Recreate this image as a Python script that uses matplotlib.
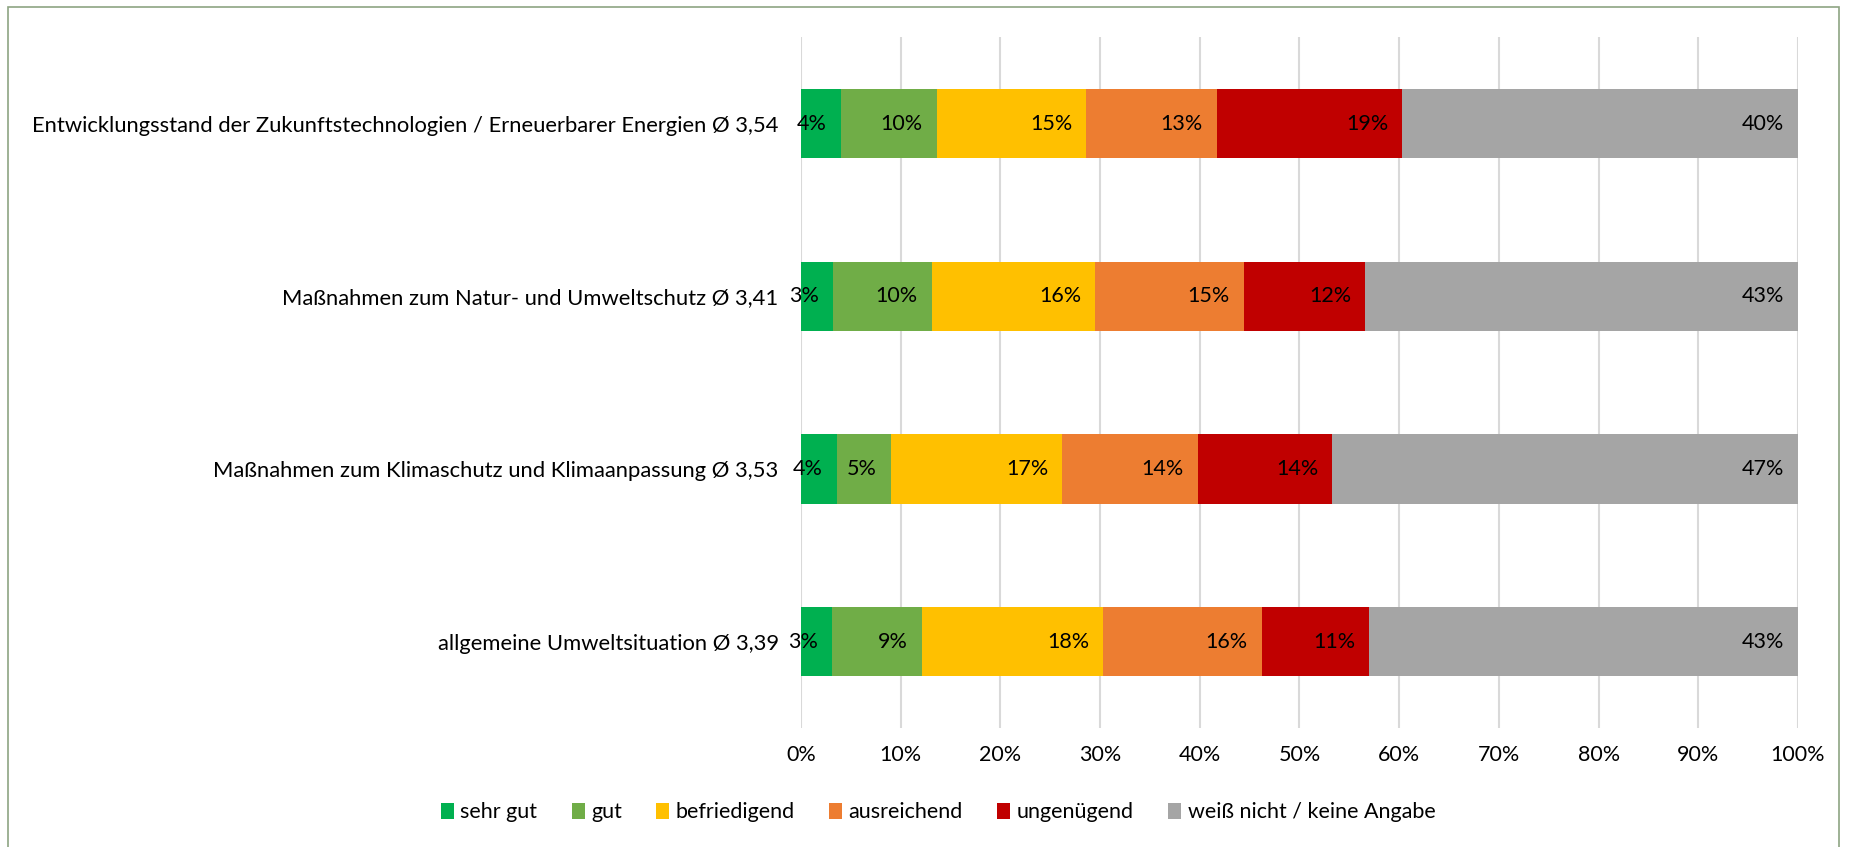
import matplotlib.pyplot as plt
import matplotlib.patches as mpatches
import numpy as np

plt.rcParams['font.family'] = ['Lato', 'DejaVu Sans']

# Kategorien (oben nach unten)
categories = [
    "Entwicklungsstand der Zukunftstechnologien / Erneuerbarer Energien Ø 3,54",
    "Maßnahmen zum Natur- und Umweltschutz Ø 3,41",
    "Maßnahmen zum Klimaschutz und Klimaanpassung Ø 3,53",
    "allgemeine Umweltsituation Ø 3,39",
]

# Anteile in Prozent je Bewertung
sehr_gut = [4.0, 3.2, 3.6, 3.1]
gut = [9.6, 9.9, 5.4, 9.0]
befriedigend = [15.0, 16.4, 17.2, 18.2]
ausreichend = [13.1, 14.9, 13.6, 15.9]
ungenuegend = [18.6, 12.2, 13.5, 10.8]
weiss_nicht = [39.7, 43.4, 46.7, 43.0]

series_names = ["sehr gut", "gut", "befriedigend", "ausreichend", "ungenügend",
                "weiß nicht / keine Angabe"]
series_values = [sehr_gut, gut, befriedigend, ausreichend, ungenuegend, weiss_nicht]
colors = ['#00B050', '#70AD47', '#FFC000', '#ED7D31', '#C00000', '#A5A5A5']

FS = 15.5

fig = plt.figure(figsize=(18.54, 8.47), dpi=100)
ax = fig.add_axes([0.432, 0.1405, 0.5378, 0.8155])

y = np.arange(len(categories))
left = np.zeros(len(categories))
for name, vals, col in zip(series_names, series_values, colors):
    vals = np.array(vals)
    ax.barh(y, vals, left=left, height=0.4, color=col, label=name, linewidth=0)
    # Datenbeschriftung rechtsbündig am Segmentende
    for yi, l, v in zip(y, left, vals):
        ax.annotate(f"{v:.0f}%", xy=(l + v, yi), xytext=(-10, 0),
                    textcoords='offset points', ha='right', va='center',
                    fontsize=FS, color='black')
    left = left + vals

ax.set_xlim(0, 100)
ax.set_ylim(-0.5, len(categories) - 0.5)
ax.invert_yaxis()
ax.set_yticks(y)
ax.set_yticklabels(categories, fontsize=15.85)
ax.set_xticks(np.arange(0, 101, 10))
ax.set_xticklabels([f"{t}%" for t in range(0, 101, 10)], fontsize=FS)
ax.tick_params(axis='y', length=0, pad=16)
ax.tick_params(axis='x', length=0, pad=12)
ax.grid(axis='x', color='#D9D9D9', linewidth=1.5)
ax.set_axisbelow(True)
for s in ax.spines.values():
    s.set_visible(False)

ax.legend(loc='center', bbox_to_anchor=(0.506, 0.041), bbox_transform=fig.transFigure,
          ncol=6, frameon=False, fontsize=FS, handlelength=0.6, handleheight=0.8,
          handletextpad=0.3, columnspacing=1.6)

# Rahmen
fig.patches.append(mpatches.Rectangle((8 / 1854, -0.05), (1839 - 8) / 1854, 1.05 - 7 / 847,
                                      transform=fig.transFigure, fill=False,
                                      edgecolor='#8EA483', linewidth=1.2))

fig.savefig('out.png', dpi=100)
